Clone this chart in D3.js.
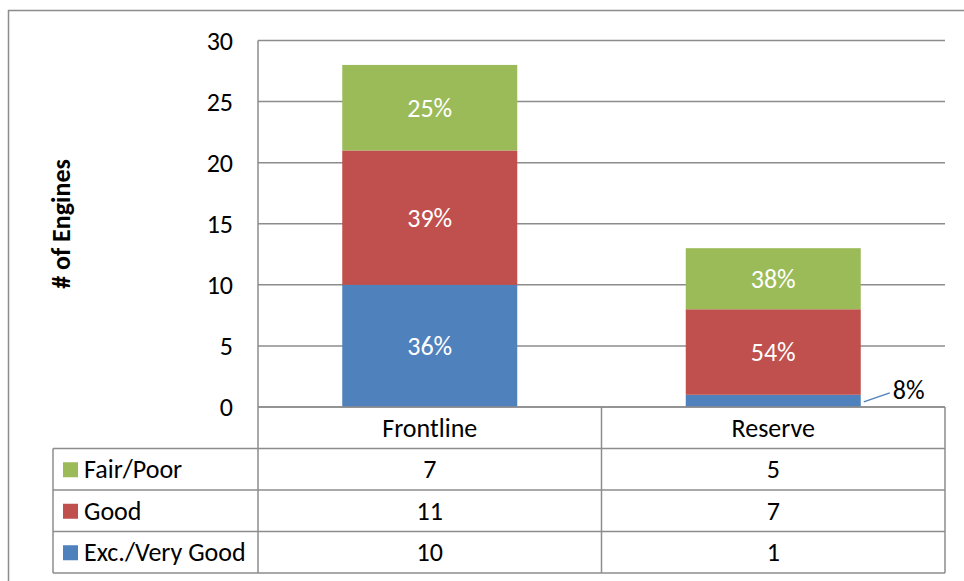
<!DOCTYPE html>
<html><head><meta charset="utf-8">
<script src="https://cdn.jsdelivr.net/npm/d3@7"></script>
<style>body{margin:0;background:#fff}svg{display:block}text{font-family:Carlito,"Open Sans","Liberation Sans",sans-serif}</style>
</head><body><svg id="c" width="964" height="581"></svg>
<script>
const categories = ["Frontline", "Reserve"];
const seriesNames = ["Exc./Very Good", "Good", "Fair/Poor"];
const excVeryGood = [10, 1];
const good = [11, 7];
const fairPoor = [7, 5];
const pctExc = ["36%", "8%"];
const pctGood = ["39%", "54%"];
const pctFair = ["25%", "38%"];
const yTicks = [0, 5, 10, 15, 20, 25, 30];
const colors = ["#4F81BD", "#C0504D", "#9BBB59"];

const values = [excVeryGood, good, fairPoor];
const pcts = [pctExc, pctGood, pctFair];
const svg = d3.select("#c");
const L = 258, R = 945, T = 40.5, B = 407;
const FS = 26;
const x = d3.scaleBand().domain(categories).range([L, R]).paddingInner(0).paddingOuter(0);
const y = d3.scaleLinear().domain([0, 30]).range([B, T]);
const grid = "#8c8c8c";

// outer frame
svg.append("path").attr("d", "M8.5,581 V10.5 H964").attr("fill", "none").attr("stroke", grid).attr("stroke-width", 1.5);

// gridlines
svg.append("g").selectAll("line").data(yTicks).join("line")
  .attr("x1", L).attr("x2", R).attr("y1", d => y(d)).attr("y2", d => y(d))
  .attr("stroke", grid).attr("stroke-width", 1.5);
svg.append("line").attr("x1", L).attr("x2", L).attr("y1", T).attr("y2", B).attr("stroke", grid).attr("stroke-width", 1.5);
svg.append("g").selectAll("text").data(yTicks).join("text")
  .attr("x", 233).attr("y", d => y(d)).attr("dy", "0.35em").attr("text-anchor", "end")
  .attr("font-size", FS).attr("fill", "#000").text(d => d);

// y title
svg.append("text").attr("transform", "translate(70,224) rotate(-90)").attr("text-anchor", "middle")
  .attr("font-size", FS).attr("font-weight", "bold").text("# of Engines");

// stacked bars
const barW = 175;
categories.forEach((c, ci) => {
  let base = 0;
  values.forEach((s, si) => {
    const v = s[ci];
    const cx = x(c) + x.bandwidth() / 2;
    svg.append("rect").attr("x", cx - barW / 2).attr("width", barW)
      .attr("y", y(base + v)).attr("height", y(base) - y(base + v)).attr("fill", colors[si]);
    const mid = (y(base) + y(base + v)) / 2;
    if (v >= 2) {
      svg.append("text").attr("x", cx).attr("y", mid).attr("dy", "0.35em").attr("text-anchor", "middle")
        .attr("font-size", FS).attr("fill", "#fff").text(pcts[si][ci]);
    } else {
      const x0 = cx + barW / 2 + 3, y0 = mid + 1;
      svg.append("line").attr("x1", x0).attr("y1", y0).attr("x2", x0 + 26).attr("y2", y0 - 9)
        .attr("stroke", colors[si]).attr("stroke-width", 1.5);
      svg.append("text").attr("x", x0 + 29).attr("y", y0 - 12).attr("dy", "0.35em")
        .attr("font-size", FS).attr("fill", "#000").text(pcts[si][ci]);
    }
    base += v;
  });
});

// data table
const rowH = 41.5;
const tL = 53, rows = [2, 1, 0];
const tableBottom = B + rowH * 4;
const g = svg.append("g");
for (let i = 0; i <= 4; i++) {
  const yy = B + rowH * i;
  g.append("line").attr("x1", i === 0 ? L : tL).attr("x2", R).attr("y1", yy).attr("y2", yy)
    .attr("stroke", grid).attr("stroke-width", 1.5);
}
g.append("line").attr("x1", tL).attr("x2", tL).attr("y1", B + rowH).attr("y2", tableBottom).attr("stroke", grid).attr("stroke-width", 1.5);
[L, L + x.bandwidth(), R].forEach(xx => {
  g.append("line").attr("x1", xx).attr("x2", xx).attr("y1", B).attr("y2", tableBottom).attr("stroke", grid).attr("stroke-width", 1.5);
});
categories.forEach(c => {
  g.append("text").attr("x", x(c) + x.bandwidth() / 2).attr("y", B + rowH / 2).attr("dy", "0.35em")
    .attr("text-anchor", "middle").attr("font-size", FS).text(c);
});
rows.forEach((si, ri) => {
  const yc = B + rowH * (ri + 1) + rowH / 2;
  g.append("rect").attr("x", 63).attr("y", yc - 7).attr("width", 15).attr("height", 15).attr("fill", colors[si]);
  g.append("text").attr("x", 84).attr("y", yc).attr("dy", "0.35em").attr("font-size", FS).text(seriesNames[si]);
  categories.forEach((c, ci) => {
    g.append("text").attr("x", x(c) + x.bandwidth() / 2).attr("y", yc).attr("dy", "0.35em")
      .attr("text-anchor", "middle").attr("font-size", FS).text(values[si][ci]);
  });
});
</script></body></html>
